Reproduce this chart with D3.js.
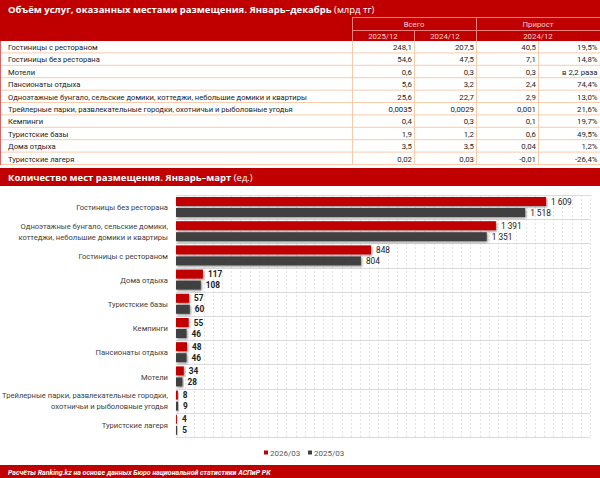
<!DOCTYPE html>
<html>
<head>
<meta charset="utf-8">
<script src="https://cdn.jsdelivr.net/npm/d3@7"></script>
<style>
  body { margin: 0; background: #fff; }
  svg { display: block; font-family: "Open Sans", "DejaVu Sans", sans-serif; }
  .nar { font-family: Roboto, "Open Sans", sans-serif; }
</style>
</head>
<body>
<div id="chart"></div>
<script>
// table: volume of services, bln tenge
var tableRows = ["Гостиницы с рестораном", "Гостиницы без ресторана", "Мотели", "Пансионаты отдыха",
  "Одноэтажные бунгало, сельские домики, коттеджи, небольшие домики и квартиры",
  "Трейлерные парки, развлекательные городки, охотничьи и рыболовные угодья",
  "Кемпинги", "Туристские базы", "Дома отдыха", "Туристские лагеря"]
var total2025 = [248.1, 54.6, 0.6, 5.6, 25.6, 0.0035, 0.4, 1.9, 3.5, 0.02]
var total2024 = [207.5, 47.5, 0.3, 3.2, 22.7, 0.0029, 0.3, 1.2, 3.5, 0.03]
var growthAbs = [40.5, 7.1, 0.3, 2.4, 2.9, 0.001, 0.1, 0.6, 0.04, -0.01]
var growthPct = [19.5, 14.8, "в 2,2 раза", 74.4, 13.0, 21.6, 19.7, 49.5, 1.2, -26.4]

// bar chart: number of accommodation places
var categories = ["Гостиницы без ресторана",
  "Одноэтажные бунгало, сельские домики,|коттеджи, небольшие домики и квартиры",
  "Гостиницы с рестораном", "Дома отдыха", "Туристские базы", "Кемпинги",
  "Пансионаты отдыха", "Мотели",
  "Трейлерные парки, развлекательные городки,|охотничьи и рыболовные угодья",
  "Туристские лагеря"]
var places2026 = [1609, 1391, 848, 117, 57, 55, 48, 34, 8, 4]
var places2025 = [1518, 1351, 804, 108, 60, 46, 46, 28, 9, 5]
var seriesNames = ["2026/03", "2025/03"]

var W = 600, H = 478
var red = "#c00000", dark = "#404040", lineCol = "#f8cbad"

var svg = d3.select("#chart").append("svg")
    .attr("width", W).attr("height", H)

var defs = svg.append("defs")
var f = defs.append("filter").attr("id", "shadow")
    .attr("x", "-10%").attr("y", "-30%").attr("width", "130%").attr("height", "180%")
f.append("feDropShadow").attr("dx", 1).attr("dy", 1.2).attr("stdDeviation", 0.9)
    .attr("flood-color", "#000").attr("flood-opacity", 0.45)

function fmt(v) { return String(v).replace(".", ",") }
function pct(v) { return typeof v === "string" ? v : d3.format(".1f")(v).replace(".", ",").replace("−", "-") + "%" }

// ---- top block: table
svg.append("rect").attr("x", 0).attr("y", 0).attr("width", W).attr("height", 41).attr("fill", red)
var t1 = svg.append("text").attr("x", 8).attr("y", 12.5).attr("fill", "#fff").attr("font-size", 9.5)
t1.append("tspan").attr("font-weight", "bold").text("Объём услуг, оказанных местами размещения. Январь–декабрь ")
t1.append("tspan").text("(млрд тг)")

var cols = [352, 414, 476, 538, 600]
var hdr = svg.append("g").attr("stroke", "#e8807f").attr("stroke-width", 1)
hdr.append("line").attr("x1", cols[0]).attr("x2", W).attr("y1", 17.5).attr("y2", 17.5)
hdr.append("line").attr("x1", cols[0]).attr("x2", W).attr("y1", 30.5).attr("y2", 30.5)
hdr.append("line").attr("x1", cols[0] + 0.5).attr("x2", cols[0] + 0.5).attr("y1", 17).attr("y2", 41)
hdr.append("line").attr("x1", cols[2] + 0.5).attr("x2", cols[2] + 0.5).attr("y1", 17).attr("y2", 41)
hdr.append("line").attr("x1", cols[1] + 0.5).attr("x2", cols[1] + 0.5).attr("y1", 30).attr("y2", 41)

var hcol = "#f6d2d2"
function htext(x, y, s) {
  svg.append("text").attr("class", "nar").attr("x", x).attr("y", y).attr("text-anchor", "middle")
    .attr("fill", hcol).attr("font-size", 7.8).text(s)
}
htext((cols[0] + cols[2]) / 2, 27, "Всего")
htext((cols[2] + cols[4]) / 2, 27, "Прирост")
htext((cols[0] + cols[1]) / 2, 39, "2025/12")
htext((cols[1] + cols[2]) / 2, 39, "2024/12")
htext((cols[2] + cols[4]) / 2, 39, "2024/12")

var rowY = d3.scaleBand().domain(d3.range(tableRows.length)).range([41, 165])
var rows = svg.append("g").attr("class", "nar").selectAll("g").data(tableRows).join("g")
    .attr("transform", function (d, i) { return "translate(0," + rowY(i) + ")" })
rows.append("line").attr("x1", 0).attr("x2", W)
    .attr("y1", rowY.bandwidth() - 0.5).attr("y2", rowY.bandwidth() - 0.5)
    .attr("stroke", lineCol)
rows.append("text").attr("x", 8).attr("y", 9).attr("font-size", 7.6).attr("fill", "#222").text(function (d) { return d })
var cellVals = [total2025, total2024, growthAbs]
cellVals.forEach(function (arr, c) {
  rows.append("text").attr("x", cols[c + 1] - 2).attr("y", 9).attr("text-anchor", "end")
    .attr("font-size", 7.8).attr("fill", "#222").text(function (d, i) { return fmt(arr[i]) })
})
rows.append("text").attr("x", W - 2.5).attr("y", 9).attr("text-anchor", "end")
    .attr("font-size", 7.8).attr("fill", "#222").text(function (d, i) { return pct(growthPct[i]) })
cols.slice(0, 4).forEach(function (x) {
  svg.append("line").attr("x1", x + 0.5).attr("x2", x + 0.5).attr("y1", 41).attr("y2", 165).attr("stroke", lineCol)
})
svg.append("line").attr("x1", 0.5).attr("x2", 0.5).attr("y1", 41).attr("y2", 165).attr("stroke", "#e06060")

// ---- second block: bar chart
svg.append("rect").attr("x", 0).attr("y", 168).attr("width", W).attr("height", 18).attr("fill", red)
var t2 = svg.append("text").attr("x", 8).attr("y", 180.5).attr("fill", "#fff").attr("font-size", 9.5)
t2.append("tspan").attr("font-weight", "bold").text("Количество мест размещения. Январь–март ")
t2.append("tspan").text("(ед.)")

var x = d3.scaleLinear().domain([0, 1800]).range([176, 590])
var y = d3.scaleBand().domain(categories).range([195, 437])

// grid
svg.append("g").selectAll("line").data(d3.range(40, 1801, 40)).join("line")
    .attr("x1", function (d) { return Math.round(x(d)) + 0.5 }).attr("x2", function (d) { return Math.round(x(d)) + 0.5 })
    .attr("y1", 195).attr("y2", 437)
    .attr("stroke", "#e3e3e3").attr("stroke-dasharray", "2,2")
svg.append("g").selectAll("line").data(categories.concat(["end"])).join("line")
    .attr("x1", 176).attr("x2", 590)
    .attr("y1", function (d, i) { return Math.round(195 + i * y.step()) + 0.5 })
    .attr("y2", function (d, i) { return Math.round(195 + i * y.step()) + 0.5 })
    .attr("stroke", "#dcdcdc")

var series = [places2026, places2025]
var colors = [red, dark]
var nf = d3.formatLocale({ decimal: ",", thousands: "\u00a0", grouping: [3], currency: ["", ""] }).format(",d")

series.forEach(function (vals, s) {
  var g = svg.append("g")
  g.selectAll("rect").data(categories).join("rect")
      .attr("x", x(0))
      .attr("y", function (d) { return y(d) + 2 + s * 11 })
      .attr("width", function (d, i) { return x(vals[i]) - x(0) })
      .attr("height", 9)
      .attr("fill", colors[s])
      .attr("filter", "url(#shadow)")
  g.selectAll("text").data(categories).join("text")
      .attr("class", "nar")
      .attr("x", function (d, i) { return x(vals[i]) + 5 })
      .attr("y", function (d) { return y(d) + 9.5 + s * 11 })
      .attr("font-size", 8.3)
      .attr("fill", "#222")
      .attr("font-weight", function (d, i) { return vals[i] < 200 ? "bold" : "normal" })
      .text(function (d, i) { return nf(vals[i]) })
})

// category labels
svg.append("g").attr("class", "nar").selectAll("text").data(categories).join("text")
    .attr("text-anchor", "end").attr("font-size", 7.6).attr("fill", "#404040")
    .each(function (d) {
      var parts = d.split("|")
      var cy = y(d) + y.bandwidth() / 2
      var sel = d3.select(this)
      parts.forEach(function (p, k) {
        sel.append("tspan").attr("x", 168)
          .attr("y", cy + 3 + (k - (parts.length - 1) / 2) * 11.5).text(p)
      })
    })

// legend
var lg = svg.append("g").attr("class", "nar").attr("font-size", 8).attr("fill", "#595959")
var lx = [264, 308]
seriesNames.forEach(function (n, i) {
  lg.append("rect").attr("x", lx[i]).attr("y", 450.5).attr("width", 4).attr("height", 4).attr("fill", colors[i])
  lg.append("text").attr("x", lx[i] + 6).attr("y", 455.5).text(n)
})

// footer
svg.append("rect").attr("x", 0).attr("y", 465).attr("width", W).attr("height", 13).attr("fill", red)
svg.append("text").attr("class", "nar").attr("x", 8).attr("y", 474.5).attr("fill", "#fff")
    .attr("font-size", 7).attr("font-style", "italic").attr("font-weight", "bold")
    .text("Расчёты Ranking.kz на основе данных Бюро национальной статистики АСПиР РК")
</script>
</body>
</html>
